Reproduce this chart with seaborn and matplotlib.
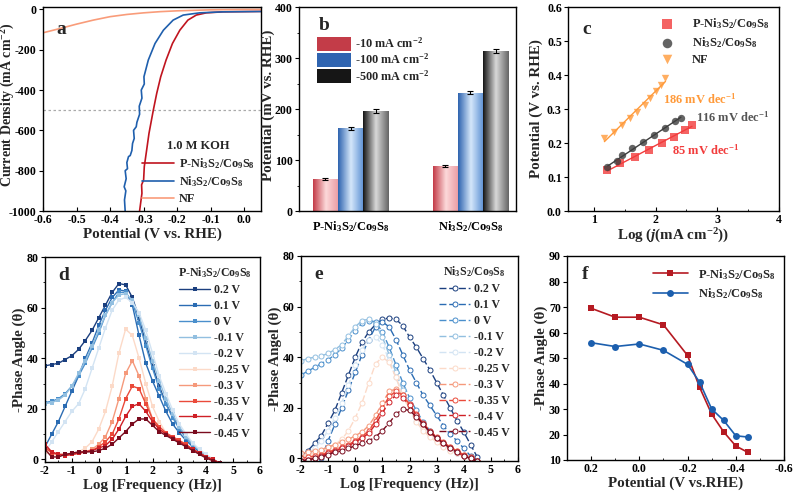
import matplotlib
matplotlib.use("Agg")
import matplotlib.pyplot as plt  # noqa: E402
import numpy as np  # noqa: E402
import pandas as pd  # noqa: E402
import seaborn as sns  # noqa: E402
from matplotlib.colors import LinearSegmentedColormap  # noqa: E402
from matplotlib.patches import Patch  # noqa: E402
from matplotlib.ticker import MultipleLocator  # noqa: E402

P_NAME = "P-Ni$_3$S$_2$/Co$_9$S$_8$"
N_NAME = "Ni$_3$S$_2$/Co$_9$S$_8$"

# ---- a: LSV curves ----
A_P_V = [-0.312, -0.308, -0.305, -0.306, -0.300, -0.298, -0.291, -0.284, -0.271, -0.261,
         -0.249, -0.233, -0.214, -0.192, -0.168, -0.143, -0.113, -0.064, 0.05]
A_P_J = [-1000, -950, -912, -870, -846, -780, -698, -615, -499, -417,
         -334, -251, -169, -103, -53, -28, -17, -12, -10]
A_N_V = [-0.355, -0.357, -0.353, -0.358, -0.352, -0.355, -0.348, -0.350, -0.345, -0.340,
         -0.335, -0.333, -0.328, -0.330, -0.322, -0.320, -0.312, -0.313, -0.305, -0.307,
         -0.298, -0.299, -0.286, -0.266, -0.241, -0.212, -0.182, -0.133, -0.064, 0.05]
A_N_J = [-1000, -945, -900, -880, -840, -800, -790, -760, -730, -725,
         -700, -665, -640, -600, -582, -560, -520, -480, -440, -400,
         -370, -334, -251, -169, -103, -53, -28, -17, -12, -10]
A_NF_V = [-0.6, -0.55, -0.5, -0.45, -0.4, -0.35, -0.3, -0.25, -0.2, -0.1, 0.0, 0.05]
A_NF_J = [-116, -95, -73, -53, -36, -25, -17, -11, -7, -2, 0, 0]

# ---- b: overpotentials ----
B_GROUPS = [P_NAME, N_NAME]
B_CURRENTS = ["-10 mA cm$^{-2}$", "-100 mA cm$^{-2}$", "-500 mA cm$^{-2}$"]
B_VALUES = {P_NAME: [63, 162, 196], N_NAME: [88, 232, 313]}
B_ERRORS = {P_NAME: [2.5, 3, 3.5], N_NAME: [2.5, 3, 4]}

# ---- c: Tafel ----
C_P_X = [1.22, 1.43, 1.67, 1.89, 2.10, 2.29, 2.47, 2.59]
C_P_Y = [0.120, 0.140, 0.160, 0.180, 0.199, 0.219, 0.238, 0.253]
C_N_X = [1.22, 1.37, 1.46, 1.62, 1.79, 1.98, 2.16, 2.32, 2.41]
C_N_Y = [0.128, 0.146, 0.165, 0.184, 0.204, 0.224, 0.245, 0.265, 0.273]
C_F_X = [1.17, 1.32, 1.45, 1.58, 1.70, 1.82, 1.91, 2.00, 2.08, 2.16]
C_F_Y = [0.214, 0.232, 0.252, 0.273, 0.292, 0.312, 0.332, 0.352, 0.371, 0.392]
C_SLOPES = ["85 mV dec$^{-1}$", "116 mV dec$^{-1}$", "186 mV dec$^{-1}$"]

# ---- d / e: Bode phase ----
LOGF = [-2.0, -1.75, -1.5, -1.25, -1.0, -0.75, -0.5, -0.25, 0.0, 0.25, 0.5, 0.75, 1.0,
        1.25, 1.5, 1.75, 2.0, 2.25, 2.5, 2.75, 3.0, 3.25, 3.5, 3.75, 4.0, 4.25, 4.5]
BIAS = ["0.2 V", "0.1 V", "0 V", "-0.1 V", "-0.2 V", "-0.25 V", "-0.3 V", "-0.35 V",
        "-0.4 V", "-0.45 V"]
D_PHASE = [
    [37, 37.5, 38, 39.5, 41, 43.5, 47, 51, 56, 61, 66, 69.5, 69, 64, 56, 46, 37, 29, 22, 17, 12.5, 9, 6, 3.5, 1.5, 0, -1.5],
    [5, 10, 15, 21, 27, 33, 40, 46, 53, 59, 64, 67, 66.5, 61, 49, 38, 31, 25, 19, 14, 10.5, 7.5, 5, 3, 1.5, 0, -1.5],
    [22.5, 23, 24, 26, 29, 33, 38, 44, 50, 57, 62, 66, 66, 62, 54, 45, 36, 28, 22, 16.5, 12, 8.5, 5.5, 3.5, 1.5, 0, -1.5],
    [22, 22.5, 23.5, 25.5, 29, 34, 39, 45, 51, 57, 62, 65, 65.5, 63, 57, 48, 39, 31, 24, 18, 13, 9, 6, 3.5, 1.5, 0, -1.5],
    [3, 7, 11, 15, 19, 22, 28, 36, 44, 52, 59, 63, 64, 62, 58, 51, 42, 33, 26, 19.5, 14, 10, 6.5, 4, 2, 0, -1.5],
    [3, 2, 1.5, 1.5, 2, 3, 4.5, 7, 12, 19, 29, 42, 51.5, 49, 40, 30, 21, 15, 10.5, 8.5, 7, 5.5, 4, 2.5, 1, 0, -1.5],
    [4, 3, 2, 2, 2, 2.5, 3, 4, 6, 9, 15, 24, 34, 39, 33, 24, 16, 12, 10, 8.5, 7, 5.5, 4, 2.5, 1, 0, -1.5],
    [5, 2.5, 2, 2, 2, 2.5, 3, 3.5, 5, 7, 10, 16, 24, 29, 28, 22, 16, 13, 10.5, 9, 7.5, 6, 4, 2.5, 1, 0, -1.5],
    [6, 3, 2, 1.5, 2, 2.5, 3, 3.5, 4.5, 5.5, 8, 12, 17, 21, 22, 19, 15, 12, 10, 8.5, 7, 5.5, 4, 2.5, 1, 0, -1.5],
    [4, 1, 1, 2, 2.5, 3, 3, 3, 3.5, 4.5, 6, 8.5, 11, 14, 16, 16, 13.5, 11, 9.5, 8, 6.5, 5, 3.5, 2, 0.5, -0.5, -1.5],
]
E_PHASE = [
    [1, 3, 6, 9, 14, 19, 26, 33, 40, 46, 50, 53, 55, 55.5, 55, 52.5, 48, 44, 39.5, 35, 30, 25, 20, 15, 10.5, 5.5, 0.5],
    [-3, -2.5, -1.5, 0, 7, 13.5, 20, 27, 34, 41, 47, 52, 54, 52, 47, 41, 35, 30, 25, 21, 17, 13, 9.5, 7, 4, 1, -1],
    [33, 34.5, 36, 37.5, 39, 41, 43.5, 47, 50.5, 53.5, 54.5, 54, 50, 44, 37, 30, 24, 19, 14.5, 11, 8, 6, 4, 2.5, 1, 0, -1],
    [38.5, 39.5, 40, 40.5, 41.5, 43, 45, 48.5, 52, 54.5, 55, 53, 48, 41, 34, 27, 21.5, 17, 13, 10, 7.5, 5.5, 3.5, 2, 1, 0, -1],
    [0, 2, 4, 7, 11, 16, 22, 29, 37, 43, 47, 48, 45, 39, 32, 25, 19.5, 15, 11.5, 9, 7, 5, 3.5, 2, 1, 0, -1],
    [1, 1.5, 2, 3, 4, 5.5, 7.5, 11, 16, 22, 30, 37.5, 40, 38, 32, 25, 19, 14.5, 11, 8.5, 6.5, 4.5, 3, 2, 1, 0, -1],
    [2, 2.5, 3, 3.5, 4.5, 5.5, 6.5, 7.5, 9, 10.5, 13, 17, 22, 26.5, 27.5, 25, 21, 17, 13.5, 10.5, 8, 6, 4.5, 3, 1.5, 0.5, -1],
    [0, 0.5, 1, 1.5, 2.5, 3.5, 4.5, 5.5, 7, 8.5, 11, 15, 20, 24.5, 26.5, 25, 21.5, 17.5, 14, 11, 8.5, 6.5, 4.5, 3, 1.5, 0.5, -1],
    [-1, -0.5, 0, 1, 2, 3, 4, 5, 6.5, 8, 10, 13.5, 18, 22.5, 25, 24, 21, 17, 13.5, 10.5, 8, 6, 4, 2.5, 1, 0, -1],
    [-1, -0.5, 0, 0.5, 1.5, 2.5, 3, 4, 5, 6, 7, 8.5, 11, 14, 17.5, 19.5, 19, 16.5, 13.5, 10.5, 8, 6, 4, 2.5, 1, 0, -1],
]
BIAS_COLORS = ["#1b3f7f", "#2b6cb3", "#4a8fcc", "#92bfe0", "#d3e4f3",
               "#fcdac8", "#f5997b", "#ea4a3a", "#cf2026", "#7a0b1e"]

# ---- f: phase peak vs potential ----
F_POT = [0.2, 0.1, 0.0, -0.1, -0.2, -0.25, -0.3, -0.35, -0.4, -0.45]
F_P = [69.5, 66, 66, 63, 51, 38.5, 28, 21, 15.5, 13]
F_N = [56, 54.5, 55.5, 53, 47.5, 40.5, 30, 25.5, 19.5, 19]

sns.set_style("ticks")
plt.rcParams.update({
    "font.family": ["Liberation Serif", "DejaVu Serif"],
    "font.weight": "bold",
    "axes.labelweight": "bold",
    "axes.labelsize": 10.8,
    "xtick.labelsize": 8.6,
    "ytick.labelsize": 8.6,
    "mathtext.fontset": "custom",
    "mathtext.rm": "Liberation Serif:bold",
    "mathtext.it": "Liberation Serif:italic:bold",
    "mathtext.bf": "Liberation Serif:bold",
    "mathtext.default": "rm",
    "axes.unicode_minus": False,
    "axes.linewidth": 1.0,
    "axes.edgecolor": "black",
    "xtick.direction": "in",
    "ytick.direction": "out",
    "xtick.major.size": 3,
    "ytick.major.size": 3,
    "xtick.minor.size": 1.8,
    "ytick.minor.size": 1.8,
    "xtick.major.pad": 2.5,
    "ytick.major.pad": 1.5,
    "xtick.color": "black",
    "ytick.color": "black",
    "axes.labelpad": 0.5,
})

W, H = 794, 495
fig = plt.figure(figsize=(W / 100, H / 100), dpi=100)


def px_axes(l, t, r, b):
    return fig.add_axes([l / W, 1 - b / H, (r - l) / W, (b - t) / H])


def letter(ax, s, x=0.07, y=0.95):
    ax.text(x, y, s, transform=ax.transAxes, fontsize=14, fontweight="bold", va="top")


def box(ax):
    for sp in ax.spines.values():
        sp.set_visible(True)
        sp.set_linewidth(1.0)


ax_a = px_axes(43, 7, 261, 211)
ax_b = px_axes(299, 7, 516, 211)
ax_c = px_axes(568, 7, 779, 211)
ax_d = px_axes(45, 257, 260, 462)
ax_e = px_axes(301, 256, 518, 461)
ax_f = px_axes(567, 256, 784, 460)

# a) LSV
ax = ax_a
ax.axhline(-500, color="#aaaaaa", lw=0.9, ls=(0, (2, 2)))
sns.lineplot(x=A_P_V, y=A_P_J, ax=ax, color="#c0141f", lw=1.2, sort=False, estimator=None,
             label=P_NAME)
sns.lineplot(x=A_N_V, y=A_N_J, ax=ax, color="#1f5fad", lw=1.2, sort=False, estimator=None,
             label=N_NAME)
sns.lineplot(x=A_NF_V, y=A_NF_J, ax=ax, color="#f99c7a", lw=1.2, sort=False, estimator=None,
             label="NF")
ax.set_xlim(-0.6, 0.05)
ax.set_ylim(-1000, 12)
ax.xaxis.set_major_locator(MultipleLocator(0.1))
ax.yaxis.set_major_locator(MultipleLocator(200))
ax.xaxis.set_major_formatter(matplotlib.ticker.FormatStrFormatter("%.1f"))
ax.set_xlabel("Potential (V vs. RHE)")
ax.set_ylabel("Current Density (mA cm$^{-2}$)", fontsize=10)
ax.yaxis.set_label_coords(-0.12, 0.52)
ax.legend(loc="lower right", frameon=False, fontsize=8.8, title="1.0 M KOH",
          title_fontproperties={"weight": "bold", "size": 9},
          handlelength=2.6, labelspacing=0.3, borderaxespad=0.1, handletextpad=0.4)
letter(ax, "a", 0.06, 0.93)
box(ax)

# b) overpotential bars with gradient fill
ax = ax_b
df_b = pd.DataFrame([(g, c, B_VALUES[g][i], B_ERRORS[g][i])
                     for g in B_GROUPS for i, c in enumerate(B_CURRENTS)],
                    columns=["group", "current", "eta", "err"])
sns.barplot(data=df_b, x="group", y="eta", hue="current", ax=ax, width=0.63,
            errorbar=None, legend=False, edgecolor="none")
grad_stops = [("#c33c48", "#fcd9da", "#ec9aa2"),
              ("#2f64b0", "#d5e7fa", "#5b8fd3"),
              ("#161616", "#d9d9d9", "#666666")]
cmaps = [LinearSegmentedColormap.from_list("g%d" % i, [(0, s[0]), (0.5, s[1]), (1, s[2])])
         for i, s in enumerate(grad_stops)]
bar_conts = list(ax.containers)
for k, cont in enumerate(bar_conts):
    sub = df_b[df_b["current"] == B_CURRENTS[k]]
    for bar, err in zip(cont, sub["err"]):
        x0, y0 = bar.get_x(), bar.get_y()
        w, h = bar.get_width(), bar.get_height()
        bar.set_facecolor("none")
        img = ax.imshow(np.linspace(0, 1, 64)[None, :], cmap=cmaps[k], aspect="auto",
                        extent=[x0, x0 + w, y0, y0 + h], zorder=2)
        img.set_clip_path(bar)
        ax.errorbar(x0 + w / 2, h, yerr=err, color="black", lw=0.8, capsize=2,
                    capthick=0.8, zorder=3)
ax.set_xlim(-0.43, 1.38)
ax.set_ylim(0, 400)
ax.yaxis.set_major_locator(MultipleLocator(100))
ax.yaxis.set_minor_locator(MultipleLocator(50))
ax.set_xlabel("")
ax.set_ylabel("Potential (mV vs. RHE)")
ax.yaxis.set_label_coords(-0.11, 0.52)
ax.tick_params(axis="x", labelsize=9, length=0, pad=6)
handles = [Patch(facecolor=s[0], edgecolor="none") for s in grad_stops]
ax.legend(handles, B_CURRENTS, loc="upper left", bbox_to_anchor=(0.06, 0.88), frameon=False,
          fontsize=8.8, handlelength=2.8, handleheight=1.4, labelspacing=0.12,
          borderaxespad=0.0, handletextpad=0.3)
letter(ax, "b", 0.09, 0.95)
box(ax)

# c) Tafel
ax = ax_c
c_sets = [(C_P_X, C_P_Y, "s", "#f23c3c", P_NAME),
          (C_N_X, C_N_Y, "o", "#3d3d3d", N_NAME),
          (C_F_X, C_F_Y, "v", "#ff9a3a", "NF")]
for xs, ys, mk, col, lab in c_sets:
    sns.regplot(x=xs, y=ys, ax=ax, ci=None, marker=mk, color=col, truncate=True,
                scatter_kws={"s": 28, "linewidths": 0, "zorder": 3},
                line_kws={"lw": 1.0}, label=lab)
ax.text(2.26, 0.178, C_SLOPES[0], color="#f23c3c", fontsize=9, fontweight="bold", va="center")
ax.text(2.66, 0.276, C_SLOPES[1], color="#555555", fontsize=9, fontweight="bold", va="center")
ax.text(2.12, 0.330, C_SLOPES[2], color="#ff9a3a", fontsize=9, fontweight="bold", va="center")
ax.set_xlim(0.58, 4)
ax.set_ylim(0, 0.6)
ax.xaxis.set_major_locator(MultipleLocator(1))
ax.xaxis.set_minor_locator(MultipleLocator(0.5))
ax.yaxis.set_major_locator(MultipleLocator(0.1))
ax.yaxis.set_major_formatter(matplotlib.ticker.FormatStrFormatter("%.1f"))
ax.set_xlabel("Log ($\\mathit{j}$(mA cm$^{-2}$))")
ax.set_ylabel("Potential (V vs. RHE)")
ax.yaxis.set_label_coords(-0.118, 0.5)
ax.legend(loc="upper right", bbox_to_anchor=(0.99, 0.99), frameon=False, fontsize=9,
          markerscale=1.3, handletextpad=1.0, labelspacing=0.3, borderaxespad=0.2)
letter(ax, "c", 0.07, 0.93)
box(ax)


# d / e) Bode phase plots
def bode(ax, data, title, open_markers, ylab, lett):
    for lab, ys, col in zip(BIAS, data, BIAS_COLORS):
        if open_markers:
            sns.lineplot(x=LOGF, y=ys, ax=ax, color=col, lw=1.0, ls=(0, (5, 2)), marker="o",
                         ms=3.6, mfc="white", mec=col, mew=0.7, estimator=None, label=lab)
        else:
            sns.lineplot(x=LOGF, y=ys, ax=ax, color=col, lw=1.0, marker="s", ms=3.0,
                         mec=col, mew=0, estimator=None, label=lab)
    ax.set_xlim(-2, 6)
    ax.set_ylim(-1, 80)
    ax.xaxis.set_major_locator(MultipleLocator(1))
    ax.xaxis.set_minor_locator(MultipleLocator(0.5))
    ax.yaxis.set_major_locator(MultipleLocator(20))
    ax.yaxis.set_minor_locator(MultipleLocator(10))
    ax.set_xlabel("Log [Frequency (Hz)]")
    ax.set_ylabel(ylab)
    ax.legend(loc="upper right", bbox_to_anchor=(1.0, 1.0), frameon=False, fontsize=8.6,
              title=title, title_fontproperties={"weight": "bold", "size": 8.6},
              handlelength=2.6, labelspacing=0.33, borderaxespad=0.3, handletextpad=0.3)
    letter(ax, lett, 0.06, 0.95)
    box(ax)


bode(ax_d, D_PHASE, P_NAME, False, "-Phase Angle (θ)", "d")
bode(ax_e, E_PHASE, N_NAME, True, "-Phase Angel (θ)", "e")

# f) phase angle vs potential
ax = ax_f
sns.lineplot(x=F_POT, y=F_P, ax=ax, color="#b51a22", lw=1.2, marker="s", ms=5, mew=0,
             estimator=None, sort=False, label=P_NAME)
sns.lineplot(x=F_POT, y=F_N, ax=ax, color="#1c5fae", lw=1.2, marker="o", ms=5, mew=0,
             estimator=None, sort=False, label=N_NAME)
ax.set_xlim(0.3, -0.6)
ax.set_ylim(10, 90)
ax.xaxis.set_major_locator(MultipleLocator(0.2))
ax.xaxis.set_minor_locator(MultipleLocator(0.1))
ax.xaxis.set_major_formatter(matplotlib.ticker.FormatStrFormatter("%.1f"))
ax.yaxis.set_major_locator(MultipleLocator(10))
ax.set_xlabel("Potential (V vs.RHE)")
ax.set_ylabel("-Phase Angle (θ)")
ax.legend(loc="upper right", bbox_to_anchor=(1.0, 0.99), frameon=False, fontsize=9,
          handlelength=2.8, labelspacing=0.4, borderaxespad=0.3)
letter(ax, "f", 0.07, 0.95)
box(ax)

fig.savefig("out.png", dpi=100)
